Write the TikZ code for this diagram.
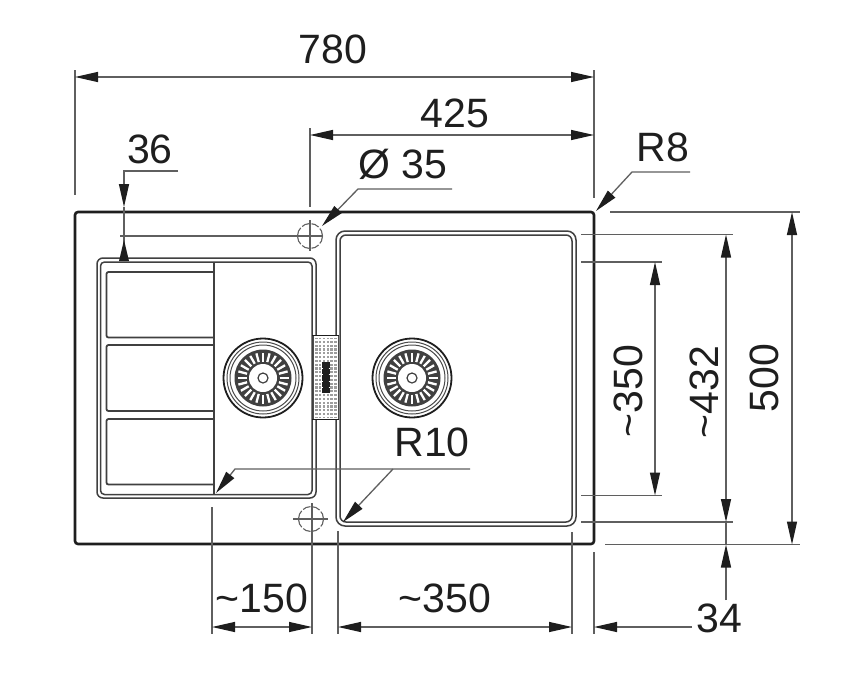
\documentclass[tikz,border=0pt]{standalone}
\usepackage{fontspec}
\setmainfont{Liberation Sans}
\usetikzlibrary{arrows.meta}
\definecolor{ink}{HTML}{1E1E1E}
\definecolor{dimgrey}{HTML}{5F5F5F}
\newcommand{\tld}{\char"7E\relax}
\tikzset{
  outline/.style={draw=ink,line width=2.6pt,rounded corners=3pt},
  bowlline/.style={draw=ink!85,line width=1.5pt},
  dimline/.style={draw=dimgrey,line width=1.3pt},
  hint/.style={draw=dimgrey,line width=1.1pt},
  both/.style={dimline,{Triangle[length=23pt,width=10pt,color=ink]}-{Triangle[length=23pt,width=10pt,color=ink]}},
  toend/.style={dimline,-{Triangle[length=23pt,width=10pt,color=ink]}},
  lbl/.style={text=ink,font=\fontsize{41}{41}\selectfont,inner sep=0pt},
  drainpic/.pic={
    \draw[ink,line width=1.8pt] (0,0) circle[radius=39.5];
    \draw[ink!80,line width=1pt] (0,0) circle[radius=36];
    \draw[ink!80,line width=1pt] (0,0) circle[radius=33];
    \fill[ink!85] (0,0) circle[radius=28.5];
    \foreach \a in {0,15,...,345}{
      \draw[white,line width=2.3pt] (\a:16.5) -- (\a:25.5);
    }
    \fill[white] (0,0) circle[radius=14];
    \draw[ink!85,line width=1.2pt] (0,0) circle[radius=5];
  },
  holepic/.pic={
    \draw[dimgrey,line width=1.1pt,dash pattern=on 8pt off 2pt] (0,0) circle[radius=12.5];
  }
}
\begin{document}
\begin{tikzpicture}[x=1pt,y=-1pt]
\useasboundingbox (0,0) rectangle (850,680);
\fill[white] (0,0) rectangle (850,680);

% outer edge
\draw[outline] (75,212) rectangle (594,544);

% left drainer outline
\draw[bowlline,rounded corners=6pt] (97,258) rectangle (316,498);
\draw[bowlline,rounded corners=4pt] (100.5,262) rectangle (312,494.5);
% ribs
\draw[bowlline,line width=1.8pt,rounded corners=2pt] (214,272) -- (106.5,272) -- (106.5,337.5) -- (214,337.5);
\draw[bowlline,line width=1.8pt,rounded corners=2pt] (214,345) -- (106.5,345) -- (106.5,411) -- (214,411);
\draw[bowlline,line width=1.8pt,rounded corners=2pt] (214,419) -- (106.5,419) -- (106.5,484.5) -- (214,484.5);
\draw[bowlline] (214,262) -- (214,494);

% right bowl
\draw[bowlline,rounded corners=9pt] (336,231) rectangle (576,526);
\draw[bowlline,rounded corners=6pt] (340,235) rectangle (572,522);

% overflow
\fill[white] (312.5,335) rectangle (338.5,420);
\fill[black!38] (313,338) rectangle (338,418);
\foreach \i in {0,...,20}{
  \draw[white,line width=1.5pt] (313,340+\i*3.8) -- (338,340+\i*3.8);
}
\foreach \i in {0,...,6}{
  \draw[white,line width=1.5pt] (314.5+\i*3.8,338) -- (314.5+\i*3.8,418);
}
\draw[ink,line width=1.5pt] (312,335.5) -- (339,335.5);
\draw[ink,line width=1.5pt] (312,419.5) -- (339,419.5);
\draw[ink!80,line width=0.9pt] (313,336) -- (313,419) (338,336) -- (338,419);
\fill[ink] (321.5,362) rectangle (330,393);
\foreach \i in {0,...,3}{
  \draw[white,line width=0.7pt] (321.5,368+\i*6.5) -- (323,368+\i*6.5) (328.5,368+\i*6.5) -- (330,368+\i*6.5);
}

% drains
\pic at (263,378) {drainpic};
\pic at (412,378) {drainpic};

% tap holes
\pic at (310,236) {holepic};
\pic at (311,519) {holepic};
\draw[hint] (310,220) -- (310,251);
\draw[hint] (120,236) -- (322,236);
\draw[hint] (293,519) -- (328,519);

% dimension 780
\draw[dimline] (75,70) -- (75,195);
\draw[dimline] (594,70) -- (594,198);
\draw[both] (75,77) -- (594,77);
\node[lbl] at (333,49) {780};

% dimension 425
\draw[dimline] (310,128) -- (310,207);
\draw[both] (310,135) -- (594,135);
\node[lbl] at (455,113) {425};

% dimension 36
\draw[toend] (178,171) -- (124,171) -- (124,207);
\draw[dimline] (124,207) -- (124,260);
\fill[ink] (124,240) -- (119,261) -- (129,261) -- cycle;
\node[lbl] at (150,149) {36};

% dia 35
\draw[toend] (452,189) -- (358,189) -- (322,226);
\node[lbl,anchor=west] at (358,164) {Ø 35};

% R8
\draw[toend] (690,172) -- (632,172) -- (596,211);
\node[lbl] at (663,147) {R8};

% R10
\draw[toend] (470,469) -- (235,469) -- (216,493);
\draw[toend] (393,469) -- (343,522);
\node[lbl] at (432,442) {R10};

% bottom extensions
\draw[dimline] (212,507) -- (212,634);
\draw[dimline] (312,503) -- (312,634);
\draw[dimline] (338,531) -- (338,634);
\draw[dimline] (572,532) -- (572,634);
\draw[dimline] (594,552) -- (594,634);

% bottom dimensions
\draw[both] (212,627) -- (312,627);
\node[lbl] at (262,598) {\tld 150};
\draw[both] (338,627) -- (572,627);
\node[lbl] at (445,598) {\tld 350};
\draw[toend] (692,627) -- (594,627);
\node[lbl] at (719,618) {34};

% right extensions
\draw[dimline] (610,212) -- (800,212);
\draw[dimline] (605,544.5) -- (800,544.5);
\draw[dimline] (581,234.5) -- (733,234.5);
\draw[dimline] (581,522) -- (733,522);
\draw[dimline] (581,262) -- (662,262);
\draw[dimline] (581,495.5) -- (662,495.5);

% right dimensions
\draw[both] (792,212) -- (792,544.5);
\node[lbl,rotate=90] at (764,378) {500};
\draw[both] (726,234.5) -- (726,522);
\draw[dimline] (726,522) -- (726,544);
\draw[toend] (726,600) -- (726,544.5);
\node[lbl,rotate=90] at (704,392) {\tld 432};
\draw[both] (655,262) -- (655,495.5);
\node[lbl,rotate=90] at (628,391) {\tld 350};
\end{tikzpicture}
\end{document}
